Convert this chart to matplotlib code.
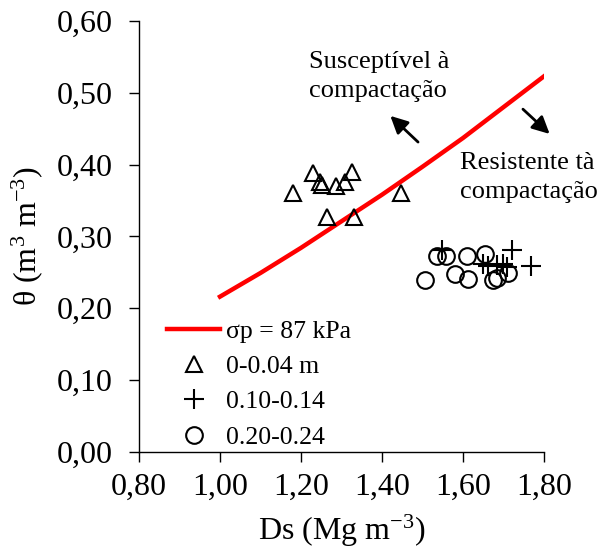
import matplotlib
matplotlib.use("Agg")
import matplotlib.pyplot as plt
from matplotlib.ticker import FixedLocator, FuncFormatter

plt.rcParams['font.family'] = ['Liberation Serif', 'DejaVu Serif']
plt.rcParams['mathtext.fontset'] = 'custom'
plt.rcParams['mathtext.rm'] = 'Liberation Serif'
plt.rcParams['mathtext.it'] = 'Liberation Serif:italic'

# sigma_p = 87 kPa curve
curve_ds = [1.00, 1.10, 1.20, 1.30, 1.40, 1.50, 1.60, 1.70, 1.80]
curve_theta = [0.216, 0.249, 0.284, 0.321, 0.358, 0.397, 0.437, 0.480, 0.523]

# 0-0.04 m
ds_0 = [1.230, 1.327, 1.247, 1.251, 1.286, 1.309, 1.181, 1.446, 1.263, 1.331]
th_0 = [0.388, 0.389, 0.376, 0.372, 0.370, 0.376, 0.361, 0.361, 0.327, 0.327]

# 0.10-0.14
ds_10 = [1.547, 1.649, 1.662, 1.684, 1.699, 1.709, 1.720, 1.768]
th_10 = [0.281, 0.261, 0.259, 0.260, 0.261, 0.257, 0.281, 0.259]

# 0.20-0.24
ds_20 = [1.506, 1.535, 1.558, 1.580, 1.611, 1.613, 1.654, 1.675, 1.683, 1.710]
th_20 = [0.239, 0.273, 0.273, 0.247, 0.273, 0.241, 0.276, 0.239, 0.242, 0.249]

x_ticks = [0.80, 1.00, 1.20, 1.40, 1.60, 1.80]
y_ticks = [0.00, 0.10, 0.20, 0.30, 0.40, 0.50, 0.60]

fig = plt.figure(figsize=(6.01, 5.52), dpi=100)
ax = fig.add_axes([139/601, 1-451.7/552, 405/601, 430.7/552])

ax.plot(curve_ds, curve_theta, color='#ff0000', lw=3.2, label='σp = 87 kPa', zorder=3)
ax.plot(ds_0, th_0, ls='none', marker='^', ms=12, mfc='none', mec='black', mew=1.5,
        label='0-0.04 m', zorder=4)
ax.plot(ds_10, th_10, ls='none', marker='+', ms=14, mec='black', mew=1.5,
        label='0.10-0.14', zorder=4)
ax.plot(ds_20, th_20, ls='none', marker='o', ms=12, mfc='none', mec='black', mew=1.5,
        label='0.20-0.24', zorder=4)

ax.set_xlim(0.8, 1.8)
ax.set_ylim(0.0, 0.6)
ax.xaxis.set_major_locator(FixedLocator(x_ticks))
ax.yaxis.set_major_locator(FixedLocator(y_ticks))
fmt = FuncFormatter(lambda v, p: f"{v:.2f}".replace('.', ','))
ax.xaxis.set_major_formatter(fmt)
ax.yaxis.set_major_formatter(fmt)

for s in ['top', 'right']:
    ax.spines[s].set_visible(False)
for s in ['left', 'bottom']:
    ax.spines[s].set_linewidth(1.0)
ax.tick_params(axis='both', direction='out', length=7, width=1.0, labelsize=23)
ax.tick_params(axis='x', pad=8)
ax.tick_params(axis='y', pad=12)

ax.set_xlabel('Ds (Mg m$^{-3}$)', fontsize=23, labelpad=8)
ax.set_ylabel(r'θ (m$^{3}$ m$^{-3}$)', fontsize=23, labelpad=8)

ax.text(1.22, 0.523, 'Susceptível à\ncompactação', fontsize=19, ha='left', va='center',
        linespacing=1.4)
ax.text(1.593, 0.382, 'Resistente tà\ncompactação', fontsize=19, ha='left', va='center',
        linespacing=1.45)

ax.annotate('', xy=(1.4156, 0.4705), xytext=(1.494, 0.4287),
            arrowprops=dict(arrowstyle='-|>', color='black', lw=2, mutation_scale=26),
            annotation_clip=False)
ax.annotate('', xy=(1.819, 0.440), xytext=(1.743, 0.4798),
            arrowprops=dict(arrowstyle='-|>', color='black', lw=2, mutation_scale=26),
            annotation_clip=False)

ax.legend(loc='upper left', bbox_to_anchor=(0.068, 0.305), frameon=False, fontsize=18.5,
          borderpad=0, borderaxespad=0, handlelength=2.1, handletextpad=0.2,
          labelspacing=0.47)

fig.savefig('out.png', dpi=100)
